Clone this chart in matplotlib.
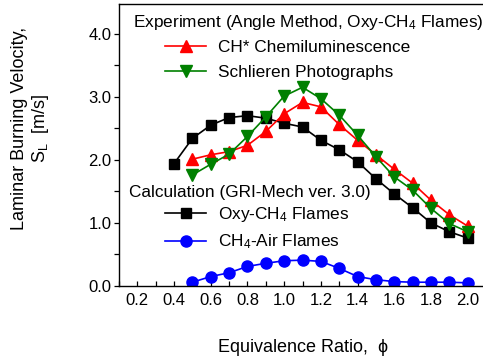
import matplotlib
matplotlib.use("Agg")
import matplotlib.pyplot as plt
from matplotlib.ticker import MultipleLocator

# ==================== Data ====================
phi_oxy = [0.4, 0.5, 0.6, 0.7, 0.8, 0.9, 1.0, 1.1, 1.2, 1.3, 1.4, 1.5, 1.6, 1.7, 1.8, 1.9, 2.0]
sl_oxy = [1.94, 2.34, 2.55, 2.67, 2.70, 2.66, 2.58, 2.52, 2.31, 2.16, 1.97, 1.70, 1.46, 1.24, 1.00, 0.86, 0.76]

phi_exp = [0.5, 0.6, 0.7, 0.8, 0.9, 1.0, 1.1, 1.2, 1.3, 1.4, 1.5, 1.6, 1.7, 1.8, 1.9, 2.0]
sl_chem = [2.01, 2.08, 2.13, 2.23, 2.45, 2.73, 2.91, 2.84, 2.56, 2.31, 2.08, 1.85, 1.63, 1.36, 1.13, 0.95]
sl_schl = [1.76, 1.93, 2.09, 2.37, 2.68, 3.01, 3.15, 2.97, 2.71, 2.39, 2.05, 1.73, 1.52, 1.23, 0.99, 0.86]

phi_air = [0.5, 0.6, 0.7, 0.8, 0.9, 1.0, 1.1, 1.2, 1.3, 1.4, 1.5, 1.6, 1.7, 1.8, 1.9, 2.0]
sl_air = [0.06, 0.15, 0.21, 0.31, 0.36, 0.40, 0.41, 0.39, 0.28, 0.15, 0.10, 0.07, 0.06, 0.06, 0.06, 0.05]

# ==================== Style ====================
plt.rcParams['font.family'] = ['Liberation Sans', 'DejaVu Sans']
plt.rcParams['mathtext.fontset'] = 'custom'
plt.rcParams['mathtext.rm'] = 'Liberation Sans'
plt.rcParams['mathtext.it'] = 'Liberation Sans'

W, H = 483, 362
fig = plt.figure(figsize=(W / 100, H / 100), dpi=100)
ax = fig.add_axes([119 / W, 1 - 286 / H, (486 - 119) / W, (286 - 4) / H])

ax.plot(phi_oxy, sl_oxy, '-s', color='black', lw=1.2, ms=6.5, label=r'Oxy-CH$_4$ Flames')
ax.plot(phi_air, sl_air, '-o', color='#0000ff', lw=1.2, ms=8, label=r'CH$_4$-Air Flames')
ax.plot(phi_exp, sl_chem, '-^', color='#ff0000', lw=1.2, ms=9, label='CH* Chemiluminescence')
ax.plot(phi_exp, sl_schl, '-v', color='#008000', lw=1.2, ms=9, label='Schlieren Photographs')

ax.set_xlim(0.1, 2.1)
ax.set_ylim(0, 4.47)
ax.xaxis.set_minor_locator(MultipleLocator(0.1))
ax.yaxis.set_major_locator(MultipleLocator(1.0))
ax.yaxis.set_minor_locator(MultipleLocator(0.5))
ax.set_xticks([0.2, 0.4, 0.6, 0.8, 1.0, 1.2, 1.4, 1.6, 1.8, 2.0])
ax.xaxis.set_major_formatter(plt.FormatStrFormatter('%.1f'))
ax.yaxis.set_major_formatter(plt.FormatStrFormatter('%.1f'))

ax.tick_params(axis='x', which='both', direction='in', length=3.5, width=0.9, labelsize=12, pad=5)
ax.tick_params(axis='y', which='both', direction='out', length=3.5, width=0.9, labelsize=12, pad=2)
ax.tick_params(top=False, right=False)
for s in ax.spines.values():
    s.set_linewidth(1.0)

# axis labels
fig.text(31 / W, 1 - 128 / H, 'Laminar Burning Velocity,\n$\\mathregular{S_L}$  [m/s]',
         rotation=90, ha='center', va='center', fontsize=13, multialignment='center',
         linespacing=1.1)
fig.text(303 / W, 1 - 348 / H, 'Equivalence Ratio,  $\\phi$', ha='center', va='center', fontsize=13)

# legends
lines = ax.get_lines()
fs = 12.4
fig.text(133 / W, 1 - 22 / H, r'Experiment (Angle Method, Oxy-CH$_4$ Flames)',
         fontsize=fs, va='center', ha='left')
leg1 = ax.legend([lines[2], lines[3]], [l.get_label() for l in lines[2:4]],
                 loc='upper left', bbox_to_anchor=(165 / W, 1 - 40 / H),
                 bbox_transform=fig.transFigure, frameon=False, fontsize=fs,
                 borderpad=0, borderaxespad=0, handlelength=2.4, handletextpad=0.65,
                 labelspacing=0.55, numpoints=1)
ax.add_artist(leg1)

fig.text(129 / W, 1 - 193 / H, 'Calculation (GRI-Mech ver. 3.0)',
         fontsize=fs, va='center', ha='left')
leg2 = ax.legend([lines[0], lines[1]], [l.get_label() for l in lines[0:2]],
                 loc='upper left', bbox_to_anchor=(165 / W, 1 - 205 / H),
                 bbox_transform=fig.transFigure, frameon=False, fontsize=fs,
                 borderpad=0, borderaxespad=0, handlelength=2.4, handletextpad=0.65,
                 labelspacing=0.5, numpoints=1)

fig.savefig('out.png', dpi=100, facecolor='white')
